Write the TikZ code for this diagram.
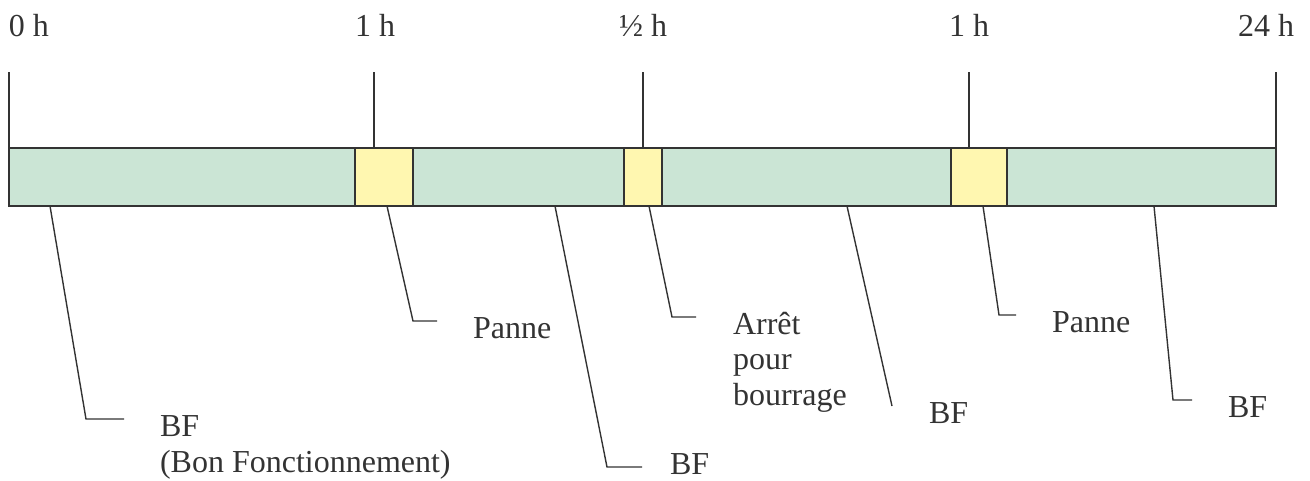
\documentclass[tikz,border=0pt]{standalone}
\usepackage{fontspec}
\setmainfont{Liberation Serif}
\definecolor{bfgreen}{RGB}{203,229,213}
\definecolor{stopyellow}{RGB}{255,247,176}
\definecolor{inkgray}{RGB}{51,51,51}
\begin{document}
\begin{tikzpicture}[x=1pt,y=-1pt,
    every node/.style={inner sep=0pt,outer sep=0pt,text=inkgray,align=left},
    bar/.style={draw=inkgray,line width=2.2pt},
    tick/.style={draw=inkgray,line width=1.5pt},
    leader/.style={draw=inkgray,line width=1.4pt}]
  \useasboundingbox (0,0) rectangle (1310,480);
  {\fontsize{32}{35.5}\selectfont

  % Drawing the time bar
  \filldraw [bar,fill=bfgreen] (9,148) rectangle (355,206);%
  \filldraw [bar,fill=stopyellow] (355,148) rectangle (413,206);%
  \filldraw [bar,fill=bfgreen] (413,148) rectangle (624,206);%
  \filldraw [bar,fill=stopyellow] (624,148) rectangle (662,206);%
  \filldraw [bar,fill=bfgreen] (662,148) rectangle (951,206);%
  \filldraw [bar,fill=stopyellow] (951,148) rectangle (1007,206);%
  \filldraw [bar,fill=bfgreen] (1007,148) rectangle (1276,206);%

  % Drawing ticks and hours
  \draw [tick] (9,72) -- (9,148);%
  \draw [tick] (374,72) -- (374,148);%
  \draw [tick] (643,72) -- (643,148);%
  \draw [tick] (969,72) -- (969,148);%
  \draw [tick] (1276,72) -- (1276,148);%
  \node [anchor=base west] (h0) at (9,36) {0 h};%
  \node [anchor=base] (h1) at (375,36) {1 h};%
  \node [anchor=base] (hhalf) at (643,36) {½ h};%
  \node [anchor=base] (h1b) at (969,36) {1 h};%
  \node [anchor=base east] (h24) at (1294,36) {24 h};%

  % Leader BF (Bon Fonctionnement)
  \coordinate (bfa) at (50,206);%
  \coordinate (bfak) at (86,419);%
  \node [anchor=base west] (bfalabel) at (160,472) {BF\\(Bon Fonctionnement)};%
  \draw [leader] (bfa) -- (bfak) -- ++(38,0);%

  % Leader Panne
  \coordinate (pannea) at (387,206);%
  \coordinate (panneak) at (413,321);%
  \node [anchor=base west] (pannealabel) at (473,338) {Panne};%
  \draw [leader] (pannea) -- (panneak) -- ++(24,0);%

  % Leader BF
  \coordinate (bfb) at (555,206);%
  \coordinate (bfbk) at (607,467);%
  \node [anchor=base west] (bfblabel) at (670,474) {BF};%
  \draw [leader] (bfb) -- (bfbk) -- ++(35,0);%

  % Leader Arret pour bourrage
  \coordinate (arret) at (649,206);%
  \coordinate (arretk) at (672,317);%
  \node [anchor=base west] (arretlabel) at (733,405) {Arrêt\\pour\\bourrage};%
  \draw [leader] (arret) -- (arretk) -- ++(24,0);%

  % Leader BF (no elbow)
  \coordinate (bfc) at (847,206);%
  \coordinate (bfck) at (892,406);%
  \node [anchor=base west] (bfclabel) at (929,423) {BF};%
  \draw [leader] (bfc) -- (bfck);%

  % Leader Panne
  \coordinate (panneb) at (983,206);%
  \coordinate (pannebk) at (999,315);%
  \node [anchor=base west] (panneblabel) at (1052,332) {Panne};%
  \draw [leader] (panneb) -- (pannebk) -- ++(17,0);%

  % Leader BF
  \coordinate (bfd) at (1154,206);%
  \coordinate (bfdk) at (1173,400);%
  \node [anchor=base west] (bfdlabel) at (1228,417) {BF};%
  \draw [leader] (bfd) -- (bfdk) -- ++(19,0);%
  }
\end{tikzpicture}
\end{document}
